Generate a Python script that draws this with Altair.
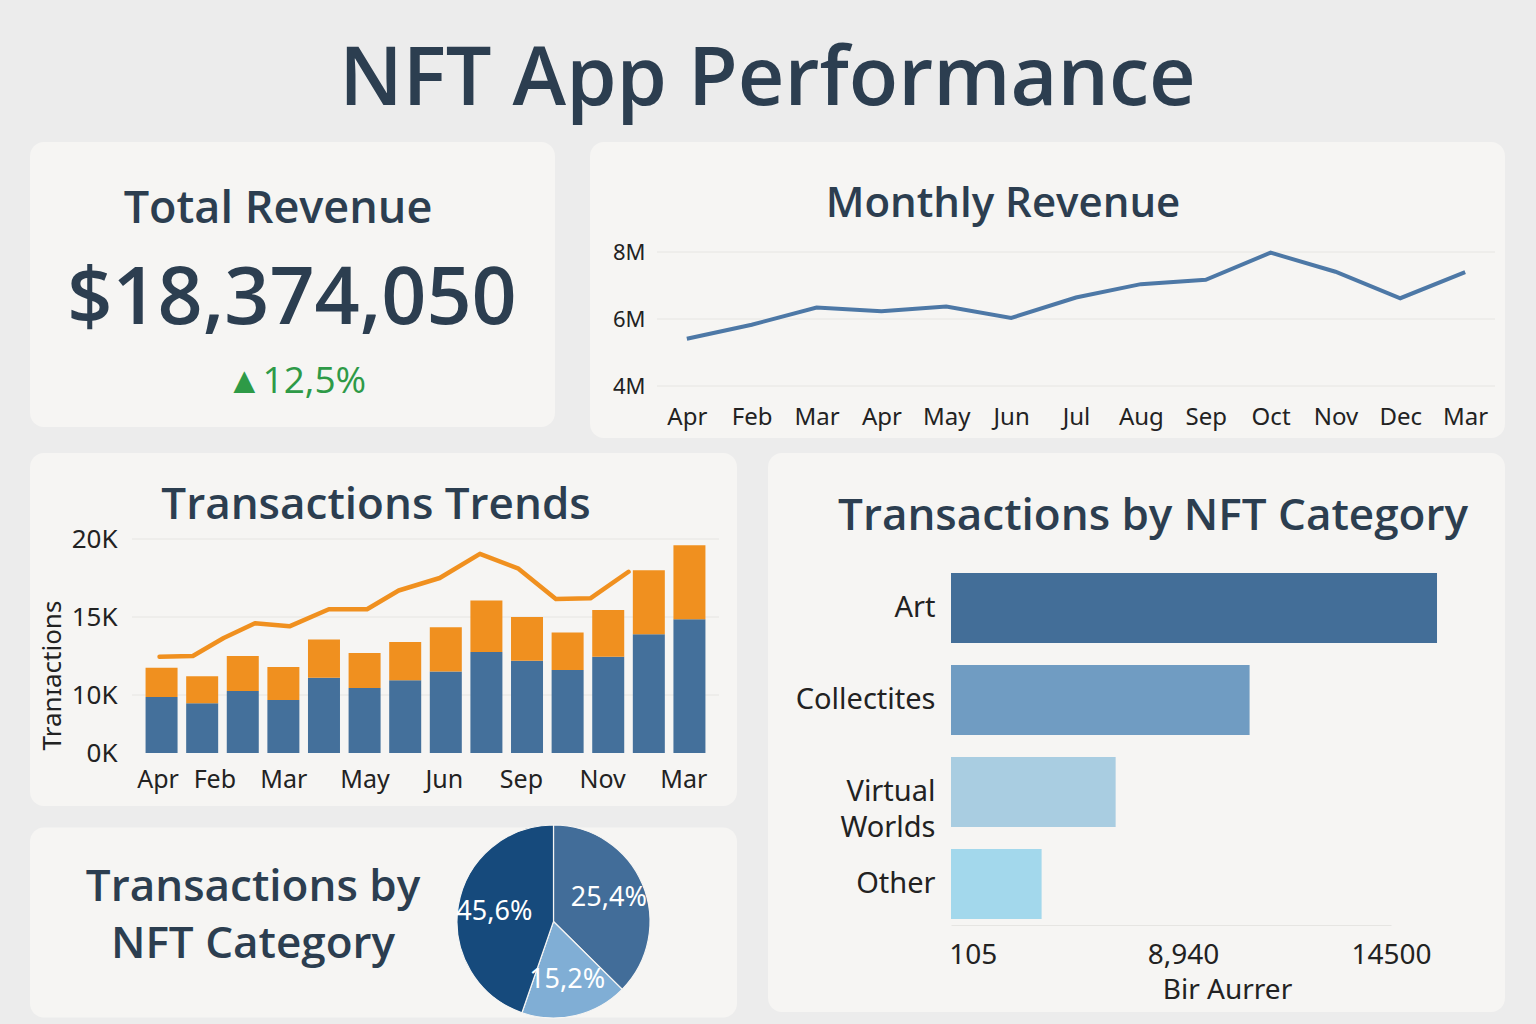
import json
import altair as alt
import pandas as pd

# ---------------- data ----------------
dashboard_title = "NFT App Performance"
total_revenue_text = "$18,374,050"
revenue_change_text = "\u25b212,5%"

rev_months = ["Apr", "Feb", "Mar", "Apr", "May", "Jun", "Jul", "Aug", "Sep", "Oct", "Nov", "Dec", "Mar"]
rev_values_m = [5.41, 5.83, 6.34, 6.23, 6.37, 6.03, 6.64, 7.04, 7.17, 7.98, 7.41, 6.62, 7.40]
rev_ticks = [4000000, 6000000, 8000000]

trend_slots = list(range(14))
trend_base = [9650, 8570, 10250, 9150, 11100, 10450, 10950, 11500, 12750, 12200, 11600, 12450, 13900, 14850]
trend_extra = [2100, 2630, 2250, 2650, 2450, 2250, 2450, 2850, 3300, 2800, 2400, 3000, 4100, 4750]
trend_line_pos = [-0.05, 0.77, 1.53, 2.30, 3.15, 4.12, 5.06, 5.84, 6.85, 7.84, 8.79, 9.71, 10.56, 11.5]
trend_line_vals = [12450, 12500, 13650, 14600, 14400, 15500, 15500, 16700, 17500, 19050, 18100, 16150, 16200, 17900]
trend_tick_pos = [-0.1, 1.3, 3.0, 5.0, 6.95, 8.85, 10.85, 12.85]
trend_tick_labels = ["Apr", "Feb", "Mar", "May", "Jun", "Sep", "Nov", "Mar"]
trend_y_ticks = [0, 10000, 15000, 20000]
trend_grid = [10000, 15000, 20000]

pie_cats = ["Collectites", "Virtual Worlds", "Art"]
pie_shares = [37.4, 17.9, 44.7]
pie_labels = ["25,4%", "15,2%", "45,6%"]

hb_cats = ["Art", "Collectites", "Virtual Worlds", "Other"]
hb_values = [15730, 10720, 6110, 3000]
hb_tick_values = [105, 8940, 14500]
hb_tick_labels = ["105", "8,940", "14500"]

# ---------------- styles ----------------
FONT = "Open Sans"
TFONT = "Noto Sans"
TITLE_COLOR = "#2c3e50"
LABEL_COLOR = "#222222"
CARD = "#f6f5f3"
PAGE = "#ececec"
GRID = "#e6e5e2"
BLUE = "#44709b"
ORANGE = "#f0901f"

one = alt.Data(values=[{"k": 1}])


def card(x0, x1, y0, y1):
    return alt.Chart(one).mark_rect(cornerRadius=14, color=CARD).encode(
        x=alt.value(x0), x2=alt.value(x1), y=alt.value(y0), y2=alt.value(y1)
    )


def label(text, x, y, size, color=TITLE_COLOR, weight=600, font=FONT, **kw):
    return alt.Chart(one).mark_text(
        text=text, fontSize=size, font=font, fontWeight=weight, color=color,
        align="center", baseline="alphabetic", **kw
    ).encode(x=alt.value(x), y=alt.value(y))


# ---------------- title row ----------------
title_row = label(dashboard_title, 635.5, 0, 81).properties(width=1, height=1)

# ---------------- panel A: total revenue ----------------
panelA = alt.layer(
    card(-102, 423, -110, 175),
    label("Total Revenue", 146, -29, 45),
    label(total_revenue_text, 160, 72, 79),
    label(revenue_change_text, 164, 141, 37, color="#2e9a47", weight=400),
).properties(width=423, height=175)

# ---------------- panel B: monthly revenue ----------------
df_rev = pd.DataFrame({
    "idx": list(range(len(rev_months))),
    "month": rev_months,
    "revenue": [v * 1e6 for v in rev_values_m],
})
df_rev_grid = pd.DataFrame({"g": rev_ticks})
ys_rev = alt.Scale(domain=[4000000, 8000000], nice=False, zero=False)
yax_rev = alt.Axis(title=None, values=rev_ticks, format="~s", labelFontSize=22, labelPadding=12,
                   ticks=False, domain=False, grid=False, zindex=1)
rev_grid = alt.Chart(df_rev_grid).mark_rule(color=GRID, strokeWidth=1).encode(
    y=alt.Y("g:Q", scale=ys_rev, axis=yax_rev)
)
rev_line = alt.Chart(df_rev).mark_line(color="#4d78a6", strokeWidth=4).encode(
    x=alt.X("idx:O", scale=alt.Scale(type="point", padding=0.46),
            axis=alt.Axis(title=None, labelAngle=0, labelExpr=json.dumps(rev_months) + "[datum.value]",
                          labelFontSize=24, labelPadding=19, ticks=False, domain=False, grid=False, zindex=1)),
    y=alt.Y("revenue:Q", scale=ys_rev, axis=yax_rev),
)
panelB = alt.layer(
    card(-67, 848, -110, 186),
    label("Monthly Revenue", 346, -35, 42),
    rev_grid,
    rev_line,
).properties(width=838, height=134)

# ---------------- panel C: transactions trends ----------------
df_tr = pd.DataFrame({
    "pos": trend_slots + trend_slots,
    "series": ["Base"] * len(trend_slots) + ["Extra"] * len(trend_slots),
    "value": trend_base + trend_extra,
    "ord": [0] * len(trend_slots) + [1] * len(trend_slots),
})
df_tl = pd.DataFrame({"lpos": trend_line_pos, "lval": trend_line_vals})
df_tg = pd.DataFrame({"g": trend_grid})

xs_tr = alt.Scale(domain=[-0.605, 13.605], nice=False, zero=False)
ys_tr = alt.Scale(domain=[0, 10000, 20000], range=[214, 156, 0], nice=False, zero=False)
xax_tr = alt.Axis(title=None, values=trend_tick_pos,
                  labelExpr=json.dumps(trend_tick_labels) + "[indexof(" + json.dumps(trend_tick_pos) + ", datum.value)]",
                  labelAngle=0, labelFontSize=25, labelPadding=14, labelFlush=False,
                  ticks=False, domain=False, grid=False, zindex=1)
yax_tr = alt.Axis(title="Tran\u026aactions", values=trend_y_ticks,
                  labelExpr="format(datum.value / 1000, 'd') + 'K'",
                  labelFontSize=26, labelPadding=15, ticks=False, domain=False, grid=False,
                  titleFontSize=26, titleFontWeight="normal", titleColor=LABEL_COLOR, titleFont=TFONT,
                  titleX=-67, titleY=136, zindex=1)

tr_grid = alt.Chart(df_tg).mark_rule(color=GRID, strokeWidth=1).encode(
    y=alt.Y("g:Q", scale=ys_tr, axis=yax_tr)
)
bars = alt.Chart(df_tr).mark_bar(width=32).encode(
    x=alt.X("pos:Q", scale=xs_tr, axis=xax_tr),
    y=alt.Y("value:Q", stack="zero", scale=ys_tr, axis=yax_tr),
    color=alt.Color("series:N", scale=alt.Scale(domain=["Base", "Extra"], range=[BLUE, ORANGE]), legend=None),
    order=alt.Order("ord:Q"),
)
tline = alt.Chart(df_tl).mark_line(color=ORANGE, strokeWidth=4.5, strokeCap="round", strokeJoin="round").encode(
    x=alt.X("lpos:Q", scale=xs_tr, axis=xax_tr),
    y=alt.Y("lval:Q", scale=ys_tr, axis=yax_tr),
)
panelC = alt.layer(
    card(-102, 605, -86, 267),
    label("Transactions Trends", 244, -20, 44),
    tr_grid,
    bars,
    tline,
).properties(width=587, height=214)

# ---------------- panel D: pie card ----------------
df_pie = pd.DataFrame({
    "cat": pie_cats, "share": pie_shares, "lab": pie_labels, "ord": list(range(len(pie_cats)))
})
PIE_CX, PIE_CY, PIE_R = 421.5, 96.5, 96.5
arcs = alt.Chart(df_pie).mark_arc(stroke=CARD, strokeWidth=1.2, outerRadius=PIE_R).encode(
    theta=alt.Theta("share:Q", stack=True),
    color=alt.Color("cat:N", scale=alt.Scale(domain=pie_cats, range=["#426d99", "#80aed5", "#164a7c"]), legend=None),
    order=alt.Order("ord:Q"),
    x=alt.value(PIE_CX), y=alt.value(PIE_CY),
)
arc_text = alt.Chart(df_pie).mark_text(radius=60, fontSize=27, font=TFONT, color="white").encode(
    theta=alt.Theta("share:Q", stack=True),
    text="lab:N",
    order=alt.Order("ord:Q"),
    x=alt.value(PIE_CX), y=alt.value(PIE_CY),
)
panelD = alt.layer(
    card(-102, 605, 2.5, 192.5),
    label("Transactions by\nNFT Category", 121, 76, 44, lineBreak="\n", lineHeight=56.6),
    arcs,
    arc_text,
).properties(width=605, height=190)

# ---------------- panel E: horizontal bars ----------------
df_hb = pd.DataFrame({"cat": hb_cats, "val": hb_values})
hbars = alt.Chart(df_hb).mark_bar().encode(
    y=alt.Y("cat:N", sort=hb_cats,
            scale=alt.Scale(paddingInner=0.24, paddingOuter=0.218, align=0.85),
            axis=alt.Axis(title=None, labelExpr="split(datum.label, ' ')", labelFontSize=29,
                          labelLineHeight=36, labelPadding=16, ticks=False, domain=False, grid=False, zindex=1)),
    x=alt.X("val:Q",
            scale=alt.Scale(domain=[0, 105, 8940, 14500], range=[0, 21.7, 232, 440], nice=False, zero=False),
            axis=alt.Axis(title="Bir Aurrer", values=hb_tick_values,
                          labelExpr=json.dumps(hb_tick_labels) + "[indexof(" + json.dumps(hb_tick_values) + ", datum.value)]",
                          labelFontSize=28, labelPadding=16, labelFlush=False, ticks=False, domain=True,
                          domainColor="#e6e5e2", grid=False, titleFontSize=28, titleFontWeight="normal",
                          titleColor=LABEL_COLOR, titleFont=TFONT, titlePadding=7, titleX=276, zindex=1)),
    color=alt.Color("cat:N", scale=alt.Scale(domain=hb_cats, range=["#436e98", "#709cc2", "#a9cde1", "#a3d8ec"]),
                    legend=None),
)
panelE = alt.layer(
    card(-183, 554, -86, 473),
    label("Transactions by NFT Category", 202, -9, 44),
    hbars,
).properties(width=490, height=386)

# ---------------- layout ----------------
row1 = alt.hconcat(panelA, panelB, spacing=35)
left = alt.vconcat(panelC, panelD, spacing=16).resolve_scale(color="independent")
row2 = alt.hconcat(left, panelE, spacing=31).resolve_scale(color="independent")
body = alt.vconcat(row1, row2, spacing=15).resolve_scale(color="independent")

chart = alt.vconcat(title_row, body, spacing=21).resolve_scale(color="independent").properties(
    padding={"left": 30, "top": 40, "right": 31, "bottom": 12},
).configure(background=PAGE).configure_view(stroke=None).configure_axis(
    labelFont=TFONT, labelColor=LABEL_COLOR
)

chart.save("out.html", embed_options={"renderer": "svg", "actions": False})
